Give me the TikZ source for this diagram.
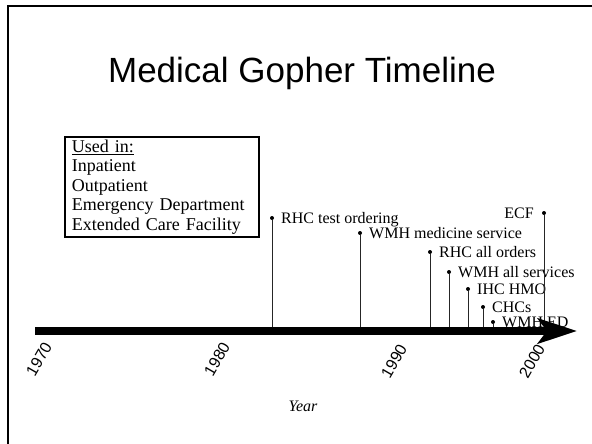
\documentclass[tikz,border=0pt]{standalone}
\usepackage{fontspec}
\setmainfont{Liberation Serif}
\setsansfont{Liberation Sans}
\usetikzlibrary{arrows.meta}
\begin{document}
\begin{tikzpicture}[x=1pt,y=-1pt,
    dot/.style={circle,fill,inner sep=0pt,minimum size=4pt},
    evt/.style={inner sep=0pt,font=\fontsize{16}{18}\selectfont},
    yearlbl/.style={rotate=60,inner sep=0pt,font=\sffamily\fontsize{16}{18}\selectfont},
    stem/.style={black!85,line width=0.8pt}]
    \useasboundingbox (0,0) rectangle (592,444);
    % frame
    \draw[line width=2.5pt] (8,444) -- (8,6) -- (592,6);
    % title
    \node[font=\sffamily\fontsize{35}{40}\selectfont,anchor=base,inner sep=0pt] (title) at (302,82) {Medical Gopher Timeline};
    % legend box
    \node[draw,line width=1.8pt,anchor=north west,inner xsep=7pt,inner ysep=3pt,text width=180pt,align=left,
          font=\fontsize{18}{19.5}\selectfont] (usedin) at (64,136)
          {\underline{Used in:}\\Inpatient\\Outpatient\\Emergency Department\\Extended Care Facility};
    % events
    \foreach \i/\x/\y/\txt in {1/272/218/RHC test ordering,2/360/233/WMH medicine service,
        3/430/252/RHC all orders,4/449/272/WMH all services,5/468/289/IHC HMO,
        6/483/307/CHCs,7/493/322/WMH ED}{
        \coordinate (base\i) at (\x,331);
        \node[dot] (ev\i) at (\x,\y) {};
        \draw[stem] (ev\i) -- (base\i);
        \node[evt,anchor=base west] (lbl\i) at ([shift={(9,5)}]ev\i) {\txt};
    }
    \coordinate (base8) at (544,331);
    \node[dot] (ev8) at (544,213) {};
    \draw[stem] (ev8) -- (base8);
    \node[evt,anchor=base east] (lbl8) at ([shift={(-10,5)}]ev8) {ECF};
    % axis
    \coordinate (axstart) at (35,331);
    \coordinate (axend) at (577,331);
    \draw[line width=8pt,-{Stealth[length=39pt,width=25pt,inset=9pt]}] (axstart) -- (axend);
    \node[yearlbl] (y1970) at (39,359) {1970};
    \node[yearlbl] (y1980) at (217,359) {1980};
    \node[yearlbl] (y1990) at (394,361) {1990};
    \node[yearlbl] (y2000) at (532,361) {2000};
    \node[font=\itshape\fontsize{16}{18}\selectfont] (yearax) at (303,406) {Year};
\end{tikzpicture}
\end{document}
